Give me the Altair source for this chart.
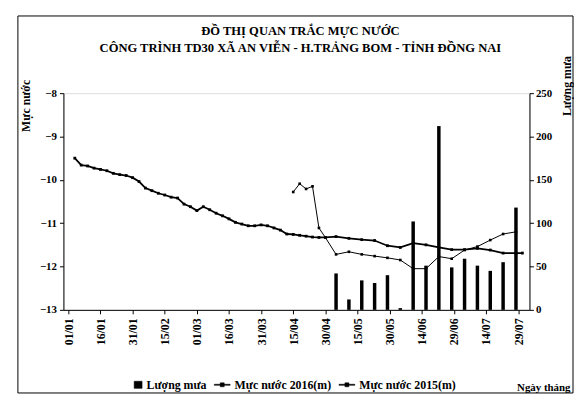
import altair as alt
import pandas as pd

# ---------------- data ----------------
title_lines = ["ĐỒ THỊ QUAN TRẮC MỰC NƯỚC",
               "CÔNG TRÌNH TD30 XÃ AN VIỄN - H.TRẢNG BOM - TỈNH ĐỒNG NAI"]
series_names = ["Lượng mưa", "Mực nước 2016(m)", "Mực nước 2015(m)"]

tick_labels = ["01/01", "16/01", "31/01", "15/02", "01/03", "16/03", "31/03", "15/04",
               "30/04", "15/05", "30/05", "14/06", "29/06", "14/07", "29/07"]

days_2016 = ["04/01", "07/01", "10/01", "13/01", "16/01", "19/01", "22/01", "25/01", "28/01", "31/01",
             "03/02", "06/02", "09/02", "12/02", "15/02", "18/02", "21/02", "24/02", "27/02",
             "01/03", "04/03", "07/03", "10/03", "13/03", "16/03", "19/03", "22/03", "25/03", "28/03", "31/03",
             "03/04", "06/04", "09/04", "12/04", "15/04", "18/04", "21/04", "24/04", "27/04", "30/04",
             "05/05", "11/05", "17/05", "23/05", "29/05", "04/06", "10/06", "16/06", "22/06", "28/06",
             "04/07", "10/07", "16/07", "22/07", "28/07", "31/07"]
level_2016 = [-9.50, -9.66, -9.68, -9.73, -9.76, -9.79, -9.85, -9.88, -9.90, -9.95,
              -10.04, -10.19, -10.25, -10.31, -10.35, -10.40, -10.42, -10.56, -10.62,
              -10.71, -10.62, -10.69, -10.77, -10.83, -10.90, -10.98, -11.02, -11.06, -11.06, -11.04,
              -11.06, -11.11, -11.16, -11.25, -11.26, -11.28, -11.30, -11.32, -11.33, -11.33,
              -11.31, -11.35, -11.38, -11.40, -11.52, -11.56, -11.46, -11.50, -11.56, -11.61,
              -11.61, -11.58, -11.62, -11.69, -11.69, -11.69]

days_2015 = ["15/04", "18/04", "21/04", "24/04", "27/04", "30/04",
             "05/05", "11/05", "17/05", "23/05", "29/05", "04/06", "10/06", "16/06", "22/06", "28/06",
             "04/07", "10/07", "16/07", "22/07", "28/07"]
level_2015 = [-10.28, -10.09, -10.21, -10.15, -11.11, -11.33,
              -11.72, -11.66, -11.72, -11.76, -11.80, -11.85, -12.05, -12.05, -11.77, -11.82,
              -11.62, -11.54, -11.39, -11.25, -11.20]

rain_days = ["05/05", "11/05", "17/05", "23/05", "29/05", "04/06", "10/06", "16/06", "22/06", "28/06",
             "04/07", "10/07", "16/07", "22/07", "28/07"]
rain_mm = [42, 12, 34, 31, 40, 2, 102, 51, 212, 49, 59, 51, 45, 55, 118]

left_ticks = [-13, -12, -11, -10, -9, -8]
right_ticks = [0, 50, 100, 150, 200, 250]


def iso(dm):
    d, m = dm.split("/")
    return f"2016-{m}-{d}"


def ms(dm):
    return int(pd.Timestamp(iso(dm), tz="UTC").value // 10**6)


rain_df = pd.DataFrame({"date": [iso(d) for d in rain_days], "value": rain_mm,
                        "series": series_names[0]})
l16_df = pd.DataFrame({"date": [iso(d) for d in days_2016], "value": level_2016,
                       "series": series_names[1]})
l15_df = pd.DataFrame({"date": [iso(d) for d in days_2015], "value": level_2015,
                       "series": series_names[2]})

FONT = "Liberation Serif"

x_enc = alt.X(
    "date:T",
    scale=alt.Scale(type="utc", domain=[ms("01/01"), ms("01/08")]),
    axis=alt.Axis(values=[ms(t) for t in tick_labels], format="%d/%m", labelAngle=270,
                  labelFont=FONT, labelFontSize=12, labelFontWeight="bold", labelColor="black",
                  labelPadding=4, tickSize=4, tickColor="black", domainColor="black",
                  grid=False, labelOverlap=False, labelFlush=False,
                  title="Ngày tháng", titleFont=FONT, titleFontSize=11, titleFontWeight="bold",
                  titleColor="black", titleAngle=0, titleAlign="right", titleBaseline="alphabetic",
                  titleX=512, titleY=82),
)

y_left = alt.Y(
    "value:Q",
    scale=alt.Scale(domain=[-13, -8], nice=False, zero=False),
    axis=alt.Axis(orient="left", values=left_ticks, format="d", grid=False,
                  labelFont=FONT, labelFontSize=11, labelFontWeight="bold", labelColor="black",
                  labelPadding=3, tickSize=4, tickColor="black", domainColor="black",
                  title="Mực nước", titleFont=FONT, titleFontSize=12, titleFontWeight="bold",
                  titleColor="black", titleAngle=270, titleAlign="right", titleBaseline="bottom",
                  titleX=-31, titleY=-14),
)

y_right = alt.Y(
    "value:Q",
    scale=alt.Scale(domain=[0, 250], nice=False),
    axis=alt.Axis(orient="right", values=right_ticks, grid=False,
                  labelFont=FONT, labelFontSize=11, labelFontWeight="bold", labelColor="black",
                  labelPadding=2, tickSize=4, tickColor="black", domainColor="black",
                  title="Lượng mưa", titleFont=FONT, titleFontSize=12, titleFontWeight="bold",
                  titleColor="black", titleAngle=270, titleAlign="right", titleBaseline="bottom",
                  titleX=44, titleY=-38),
)

bar_path = "M0,-0.45H1V0.45H0Z"
line_path = "M-1,-0.07H1V0.07H-1Z M-0.25,-0.25H0.25V0.25H-0.25Z"
shape_expr = f"datum.value === '{series_names[0]}' ? '{bar_path}' : '{line_path}'"

legend = alt.Legend(
    title=None, orient="none", legendX=63, legendY=286, direction="horizontal", columns=3,
    symbolSize=256, labelFont=FONT, labelFontSize=12, labelFontWeight="bold",
    labelColor="black", columnPadding=6, labelOffset=4,
    symbolType={"expr": shape_expr},
    symbolFillColor="black", symbolStrokeColor="black", symbolStrokeWidth=0.5,
    symbolOpacity=1,
)

color_enc = alt.Color("series:N",
                      scale=alt.Scale(domain=series_names, range=["black", "black", "black"]),
                      legend=legend)

bars = alt.Chart(rain_df).mark_bar(size=3.5).encode(x=x_enc, y=y_right, color=color_enc)

line16 = alt.Chart(l16_df).mark_line(
    strokeWidth=1.8,
    point=alt.OverlayMarkDef(shape="square", size=8, filled=True),
).encode(x=x_enc, y=y_left, color=color_enc)

line15 = alt.Chart(l15_df).mark_line(
    strokeWidth=1,
    point=alt.OverlayMarkDef(shape="square", size=7, filled=True),
).encode(x=x_enc, y=y_left, color=color_enc)

# decorative box around the whole chart (pixel edges, drawn without scales)
FL, FR, FT, FB = -46, 515, -78, 303
frame_df = pd.DataFrame({
    "fx": [FL, FR, FL, FL],
    "fx2": [FL, FR, FR, FR],
    "fy": [FT, FT, FT, FB],
    "fy2": [FB, FB, FT, FB],
})
frame = alt.Chart(frame_df).mark_rule(color="black", strokeWidth=1, clip=False).encode(
    x=alt.X("fx:Q", scale=None, axis=None),
    x2="fx2:Q",
    y=alt.Y("fy:Q", scale=None, axis=None),
    y2="fy2:Q",
)

lines = alt.layer(frame, line16, line15)

chart = alt.layer(lines, bars).resolve_scale(
    y="independent"
).properties(
    width=471,
    height=219,
    padding={"left": 56, "top": 84, "right": 45, "bottom": 85},
    autosize=alt.AutoSizeParams(type="none"),
    title=alt.TitleParams(text=title_lines, font=FONT, fontSize=12.7, fontWeight="bold",
                          color="black", anchor="middle", frame="group", lineHeight=18,
                          offset=-40, dx=4),
).configure_view(stroke="black", strokeWidth=1).configure(background="white")

chart.save("out.html", embed_options={"renderer": "svg", "actions": False})
